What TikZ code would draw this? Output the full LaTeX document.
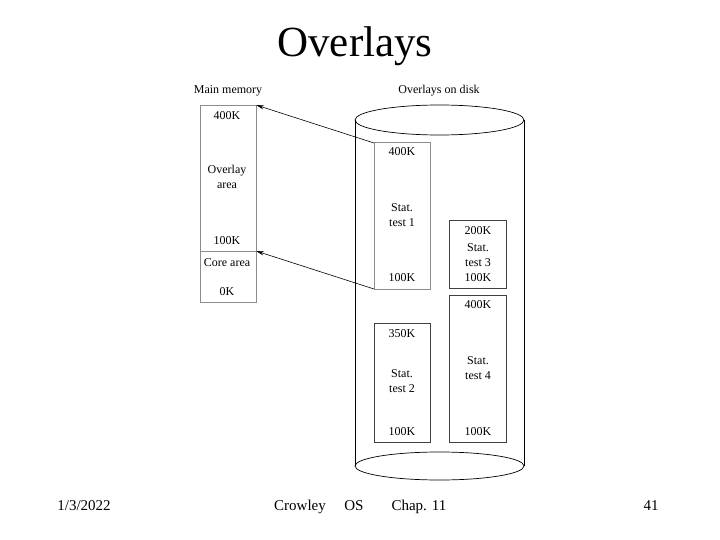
\documentclass[tikz,border=0pt]{standalone}
\usepackage{fontspec}
\setmainfont{Liberation Serif}
\usetikzlibrary{arrows.meta}
\begin{document}
\begin{tikzpicture}[x=1pt,y=-1pt,
  lbl/.style={font=\fontsize{12}{14.5}\selectfont, inner sep=0pt, align=center},
  foot/.style={font=\fontsize{15}{16}\selectfont, inner sep=0pt, anchor=base},
  seg/.style={draw=black!75, line width=0.7pt},
  gseg/.style={draw=black!45, line width=0.8pt},
  arr/.style={-{Stealth[length=8pt,width=4pt]}, line width=0.6pt}]
\useasboundingbox (0,0) rectangle (720,540);
% title
\node[font=\fontsize{43}{44}\selectfont, inner sep=0pt] (title) at (355,46) {Overlays};
% main memory
\node[lbl] (mmlabel) at (228,91) {Main memory};
\draw[gseg] (200,105) rectangle (256,302);
\draw[gseg] (200,251) -- (256,251);
\coordinate (mmtop) at (256,105);
\coordinate (mmdiv) at (256,251);
\node[lbl] (m400) at (227,116) {400K};
\node[lbl] (mov) at (227,177) {Overlay\\area};
\node[lbl] (m100) at (227,241) {100K};
\node[lbl] (mcore) at (227,263) {Core area};
\node[lbl] (m0) at (227,292) {0K};
% disk cylinder
\node[lbl] (disklabel) at (439,91) {Overlays on disk};
\draw[line width=0.7pt] (439.5,120) ellipse [x radius=84.5, y radius=15];
\draw[line width=0.7pt] (355,120) -- (355,466);
\draw[line width=0.7pt] (524,120) -- (524,466);
\draw[line width=0.7pt] (439.5,466) ellipse [x radius=84.5, y radius=14];
% stat test 1
\draw[gseg] (374,142) rectangle (430,289);
\coordinate (t1top) at (374,143);
\coordinate (t1bot) at (374,289);
\node[lbl] (a400) at (402,152) {400K};
\node[lbl] (atest) at (402,215) {Stat.\\test 1};
\node[lbl] (a100) at (402,278) {100K};
% stat test 3
\draw[seg] (449,220) rectangle (506,288);
\node[lbl] (c200) at (478,231) {200K};
\node[lbl] (ctest) at (478,255) {Stat.\\test 3};
\node[lbl] (c100) at (478,278) {100K};
% stat test 4
\draw[seg] (449,295) rectangle (506,442);
\node[lbl] (d400) at (478,305) {400K};
\node[lbl] (dtest) at (478,368) {Stat.\\test 4};
\node[lbl] (d100) at (478,432) {100K};
% stat test 2
\draw[seg] (374,323) rectangle (430,442);
\node[lbl] (b350) at (402,334) {350K};
\node[lbl] (btest) at (402,381) {Stat.\\test 2};
\node[lbl] (b100) at (402,432) {100K};
% arrows
\draw[arr] (t1top) -- (mmtop);
\draw[arr] (t1bot) -- (mmdiv);
% footer
\node[foot] (date) at (84,510) {1/3/2022};
\node[foot] (auth) at (300,510) {Crowley};
\node[foot] (os) at (354,510) {OS};
\node[foot] (chap) at (419,510) {Chap. 11};
\node[foot] (page) at (651,510) {41};
\end{tikzpicture}
\end{document}
